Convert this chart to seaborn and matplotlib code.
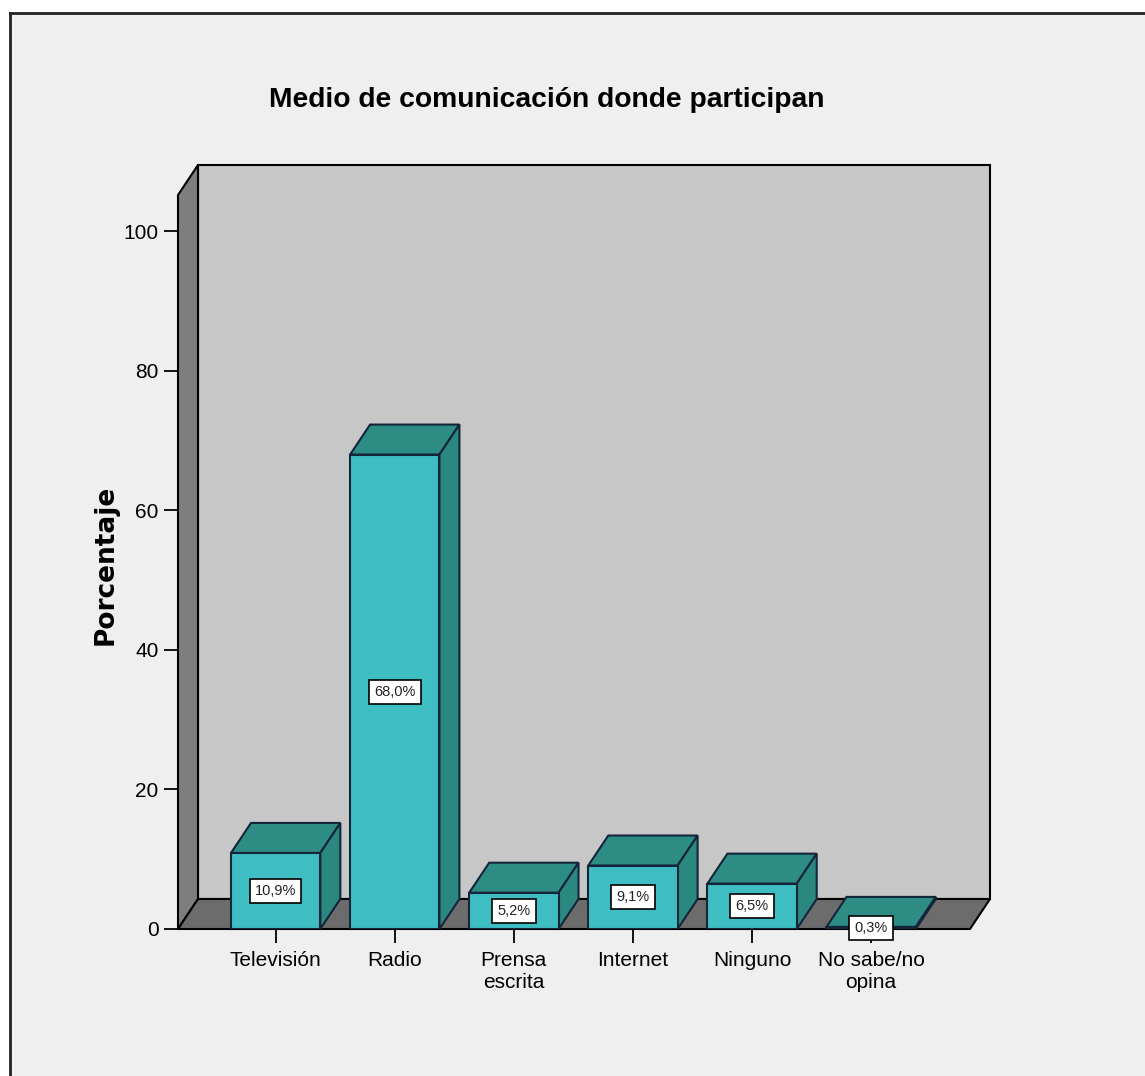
import matplotlib
matplotlib.use('Agg')
import matplotlib.pyplot as plt
from matplotlib.patches import Polygon, Rectangle
from matplotlib.lines import Line2D
import seaborn as sns

# Data
categories = ['Televisión', 'Radio', 'Prensa\nescrita', 'Internet', 'Ninguno', 'No sabe/no\nopina']
percentages = [10.9, 68.0, 5.2, 9.1, 6.5, 0.3]
y_ticks = [0, 20, 40, 60, 80, 100]
title = 'Medio de comunicación donde participan'
y_label = 'Porcentaje'

# Colours
front_color = '#3ebec3'
top_color = '#2d8d85'
side_color = '#2a8880'
edge_color = '#14253a'
back_wall = '#c7c7c7'
left_wall = '#7e7e7e'
floor_color = '#6c6c6c'

plt.rcParams['font.family'] = ['Liberation Sans', 'DejaVu Sans']

fig = plt.figure(figsize=(11.45, 10.76), dpi=100, facecolor='white')
# Outer panel (SPSS chart frame)
fig.patches.append(Rectangle((10 / 1145, 0), 1, 1 - 13 / 1076, transform=fig.transFigure,
                             facecolor='#efefef', edgecolor='none', zorder=-10))
fig.lines.append(Line2D([10 / 1145, 1], [1 - 13 / 1076, 1 - 13 / 1076], transform=fig.transFigure,
                        color='#222222', lw=2, zorder=-5))
fig.lines.append(Line2D([10 / 1145, 10 / 1145], [0, 1 - 13 / 1076], transform=fig.transFigure,
                        color='#222222', lw=2, zorder=-5))

ax = fig.add_axes([178 / 1145, 1 - 929 / 1076, 812 / 1145, 764 / 1076])
ax.set_facecolor('none')

# 3D depth offsets (data units)
DX, DY = 0.168, 4.3
XL, XR, TOP = -0.82, 5.83, 105.2

# Walls and floor
ax.add_patch(Polygon([(XL + DX, DY), (XR + DX, DY), (XR + DX, TOP + DY), (XL + DX, TOP + DY)],
                     closed=True, facecolor=back_wall, edgecolor='black', lw=1.5, zorder=0, clip_on=False))
ax.add_patch(Polygon([(XL, 0), (XL + DX, DY), (XL + DX, TOP + DY), (XL, TOP)],
                     closed=True, facecolor=left_wall, edgecolor='black', lw=1.5, zorder=1, clip_on=False))
ax.add_patch(Polygon([(XL, 0), (XR, 0), (XR + DX, DY), (XL + DX, DY)],
                     closed=True, facecolor=floor_color, edgecolor='black', lw=1.5, zorder=1, clip_on=False))

# Front faces of the bars
sns.barplot(x=categories, y=percentages, ax=ax, color=front_color, saturation=1,
            edgecolor=edge_color, linewidth=1.5, width=0.75, zorder=3)

# Top and side faces, built from the bars seaborn drew
for p, v in zip(list(ax.patches)[3:], percentages):
    x0, w, h = p.get_x(), p.get_width(), p.get_height()
    x1 = x0 + w
    ax.add_patch(Polygon([(x0, h), (x1, h), (x1 + DX, h + DY), (x0 + DX, h + DY)], closed=True,
                         facecolor=top_color, edgecolor=edge_color, lw=1.5, zorder=2, clip_on=False))
    ax.add_patch(Polygon([(x1, 0), (x1 + DX, DY), (x1 + DX, h + DY), (x1, h)], closed=True,
                         facecolor=side_color, edgecolor=edge_color, lw=1.5, zorder=2, clip_on=False))
    ax.text(x0 + w / 2, h / 2, f'{v:.1f}'.replace('.', ',') + '%', ha='center', va='center',
            fontsize=10.5, color='#222222', zorder=6,
            bbox=dict(boxstyle='square,pad=0.35', facecolor='white', edgecolor='black', lw=1.2))

ax.set_xlim(XL, XR + DX)
ax.set_ylim(0, TOP + DY)
ax.set_yticks(y_ticks)
for s in ax.spines.values():
    s.set_visible(False)
ax.tick_params(axis='both', direction='out', length=10, width=1.3, color='black',
               labelsize=15, pad=4, bottom=True, left=True)
ax.tick_params(axis='x', pad=6)
ax.set_xlabel('')
ax.set_ylabel(y_label, fontsize=19, fontweight='bold', family=['DejaVu Sans'], va='center')
ax.yaxis.set_label_coords(-0.089, 0.476)

fig.text(547 / 1145, 1 - 100 / 1076, title, ha='center', va='center', fontsize=20.3, fontweight='bold')

fig.savefig('out.png', dpi=100)
